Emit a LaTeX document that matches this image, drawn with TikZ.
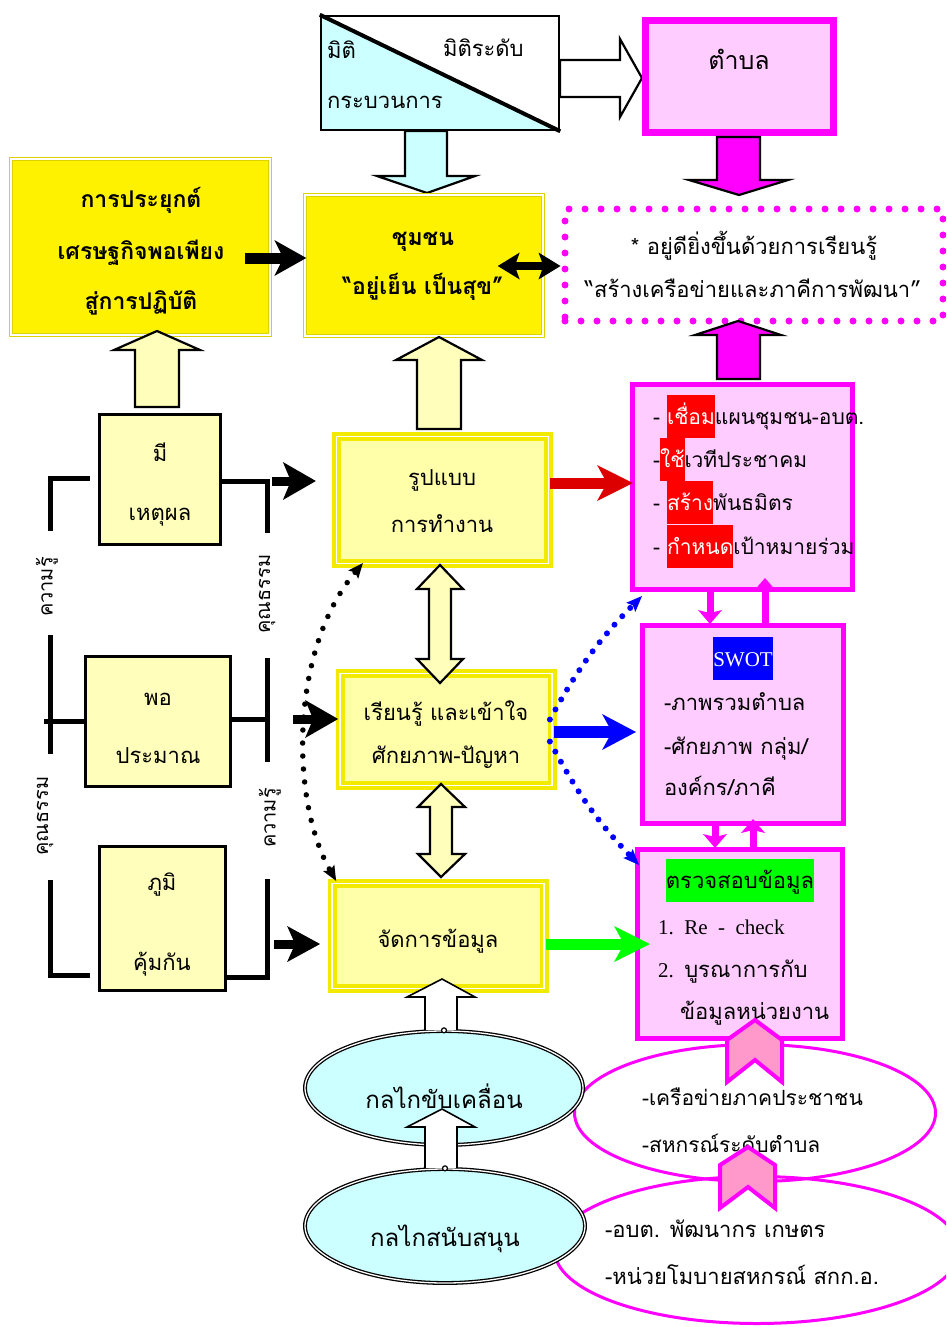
\documentclass[tikz,border=0pt]{standalone}
\usepackage{fontspec}
\setmainfont[Script=Thai]{Loma}
\newfontfamily\latf{Liberation Serif}
\usetikzlibrary{arrows.meta,shapes.geometric,calc}
\definecolor{gold}{HTML}{DCD200}
\definecolor{ybord}{HTML}{F2EA00}
\definecolor{lyel}{HTML}{FFFFAA}
\definecolor{cream}{HTML}{FFFFBB}
\definecolor{pinkf}{HTML}{FFCCFF}
\definecolor{mag}{HTML}{FF00FF}
\definecolor{cyanf}{HTML}{CCFFFF}
\definecolor{chev}{HTML}{FF99CC}
\definecolor{darkred}{HTML}{DD0000}
\definecolor{lime}{HTML}{00FF00}
\newcommand\hlbox[3]{{\setlength\fboxsep{0pt}\colorbox{#1}{\rule[-14pt]{0pt}{43pt}\textcolor{#2}{#3}}}}
\begin{document}
\begin{tikzpicture}[x=1pt,y=-1pt]
\tikzset{
 tx/.style={inner sep=0pt, outer sep=0pt, anchor=base, font=\fontsize{22}{26}\selectfont},
 txl/.style={tx, anchor=base west},
 txb/.style={tx, font=\fontsize{23}{26}\selectfont\bfseries},
 rot/.style={inner sep=0pt, font=\fontsize{20}{24}\selectfont, rotate=90},
 ybig/.style={rectangle, fill=yellow, draw=gold, double=white, line width=1.5pt, double distance=1.5pt, inner sep=0pt},
 ymid/.style={rectangle, fill=lyel, draw=ybord, double=white, line width=3.8pt, double distance=1.4pt, inner sep=0pt},
 sbox/.style={rectangle, fill=cream, draw=black, line width=3pt, inner sep=0pt},
 pbox/.style={rectangle, fill=pinkf, draw=mag, line width=5pt, inner sep=0pt},
 cyell/.style={ellipse, fill=cyanf, draw=black, double=white, line width=1.3pt, double distance=1.3pt, inner sep=0pt},
 pkell/.style={ellipse, draw=mag, line width=3pt, inner sep=0pt},
 barr/.style={draw=black, line width=2.2pt, line join=miter},
 brk/.style={draw=black, line width=5pt},
 fat/.style={line width=#1},
 bigtip/.style={-{Stealth[length=32pt,width=36pt,inset=9pt,line width=0pt]}},
 pktip/.style={-{Stealth[length=14pt,width=24pt,inset=3pt,line width=0pt]}},
 dotblue/.style={draw=blue, line width=6pt, dash pattern=on 0pt off 11.5pt, line cap=round},
 dotblack/.style={draw=black, line width=5.5pt, dash pattern=on 0pt off 13pt, line cap=round},
}
\useasboundingbox (0,0) rectangle (946,1327);
\clip (0,0) rectangle (946,1327);

% ---- top: dimension box
\fill[cyanf] (321,16) -- (559,130) -- (321,130) -- cycle;
\node[rectangle, draw=black, line width=2.5pt, minimum width=238, minimum height=114, inner sep=0pt] (miti) at (440,73) {};
\draw[line width=4pt] (miti.north west) -- (miti.south east);
\draw[barr, fill=white] (560,60) -- (620,60) -- (620,39) -- (642,78) -- (620,117) -- (620,97) -- (560,97) -- cycle;
\draw[barr, fill=cyanf] (405,131) -- (405,176) -- (377,176) -- (427,193) -- (475,176) -- (447,176) -- (447,131) -- cycle;

\node[rectangle, fill=pinkf, draw=mag, line width=7pt, minimum width=188, minimum height=112, inner sep=0pt] (tambon) at (739.5,76.5) {};
\draw[barr, fill=mag] (717,137) -- (717,180) -- (689,180) -- (739,195) -- (788,180) -- (760,180) -- (760,137) -- cycle;

% ---- yellow boxes
\node[ybig, minimum width=259, minimum height=176] (apply) at (140.5,247) {};
\node[ybig, minimum width=238, minimum height=141] (chum) at (424,265.5) {};
\node[rectangle, draw=mag, line width=7pt, dash pattern=on 0pt off 16pt, line cap=round, minimum width=378, minimum height=112, inner sep=0pt] (dotbox) at (754,265) {};
\draw[barr, fill=mag] (717,379) -- (717,335) -- (695,335) -- (738,321) -- (781,335) -- (760,335) -- (760,379) -- cycle;

\draw[barr, fill=cream] (135,407) -- (135,350) -- (114,350) -- (157,331) -- (200,350) -- (179,350) -- (179,407) -- cycle;
\draw[barr, fill=cream] (417,429) -- (417,360) -- (396,360) -- (439,337) -- (482,360) -- (461,360) -- (461,429) -- cycle;

% ---- left small boxes
\node[sbox, minimum width=121, minimum height=130] (mi) at (160,479.5) {};
\node[sbox, minimum width=145, minimum height=130] (por) at (158,721.5) {};
\node[sbox, minimum width=126, minimum height=144] (phum) at (162.5,918.5) {};

% brackets
\draw[brk] (90,478) -- (50,478) -- (50,531);
\draw[brk] (50,635) -- (50,754);
\draw[brk] (por.west) -- ++(-40,0);
\draw[brk] (50,880) -- (50,975) -- (90,975);
\draw[brk] ($(mi.east)+(0,1.5)$) -- (267,481) -- (267,533);
\draw[brk] (267,658) -- (267,762);
\draw[brk] ($(por.east)+(0,-2.5)$) -- (269.5,719);
\draw[brk] (267,879) -- (267,977) -- ($(phum.west)+(129,58.5)$);

\node[rot] (lk1) at (47,587) {ความรู้};
\node[rot] (lm1) at (45,816) {คุณธรรม};
\node[rot] (rm1) at (267,594) {คุณธรรม};
\node[rot] (rk1) at (270,818) {ความรู้};

% ---- middle light yellow boxes
\node[ymid, minimum width=211.5, minimum height=126.5] (rup) at (442.5,500) {};
\node[ymid, minimum width=212, minimum height=111.5] (rian) at (446,729.5) {};
\node[ymid, minimum width=212, minimum height=104.5] (jad) at (438,936) {};

\draw[barr, fill=cream] (440,565) -- (463,589) -- (451,589) -- (451,659) -- (463,659) -- (440,683) -- (417,659) -- (429,659) -- (429,589) -- (417,589) -- cycle;
\draw[barr, fill=cream] (441,784) -- (465,807) -- (452,807) -- (452,854) -- (465,854) -- (441,877) -- (418,854) -- (430,854) -- (430,807) -- (418,807) -- cycle;

% ---- right pink boxes
\node[pbox, minimum width=220, minimum height=205] (link) at (742.5,487) {};
\node[pbox, minimum width=201, minimum height=198] (swot) at (743,724.5) {};
\node[pbox, minimum width=205, minimum height=189] (check) at (740,944) {};

% ---- bottom ellipses
\node[pkell, minimum width=361, minimum height=137] (pell1) at (755,1113) {};
\node[pkell, minimum width=405, minimum height=147] (pell2) at (757,1250) {};
\node[cyell, minimum width=278, minimum height=114] (ell1) at (444,1088) {};
\node[cyell, minimum width=280, minimum height=114] (ell2) at (445,1226) {};

% ---- connectors
\draw[fat=11pt, bigtip] ($(apply.east)+(-26,11)$) -- ($(chum.west)+(2,-7.5)$);
\draw[fat=8pt, {Stealth[length=22pt,width=27pt,inset=5pt,line width=0pt]}-{Stealth[length=22pt,width=27pt,inset=5pt,line width=0pt]}] ($(chum.east)+(-46,0.5)$) -- ($(dotbox.west)+(-1,1)$);
\draw[fat=9pt, -{Stealth[length=33pt,width=38pt,inset=8pt,line width=0pt]}] ($(mi.east)+(50,1.5)$) -- ($(rup.west)+(-19,-19)$);
\draw[fat=9pt, -{Stealth[length=33pt,width=38pt,inset=8pt,line width=0pt]}] ($(por.east)+(61,-2.5)$) -- ($(rian.west)+(0,-10.5)$);
\draw[fat=9pt, -{Stealth[length=33pt,width=36pt,inset=8pt,line width=0pt]}] ($(phum.east)+(47,25.5)$) -- ($(jad.west)+(-10,8)$);
\draw[darkred, fat=11pt, -{Stealth[length=36pt,width=36pt,inset=10pt,line width=0pt]}] ($(rup.east)+(0,-17)$) -- ($(link.west)+(3,-4)$);
\draw[blue, fat=12pt, -{Stealth[length=34pt,width=36pt,inset=10pt,line width=0pt]}] ($(rian.east)+(0,2.5)$) -- ($(swot.west)+(-4,7.5)$);
\draw[lime, fat=11pt, -{Stealth[length=36pt,width=36pt,inset=10pt,line width=0pt]}] ($(jad.east)+(0,8)$) -- ($(check.west)+(15,0)$);

\draw[mag, fat=7pt, pktip] ($(link.south)+(-32.5,0)$) -- ($(swot.north)+(-33,1)$);
\draw[mag, fat=7pt, pktip] ($(swot.north)+(22,0)$) -- ($(link.south)+(22.5,-14)$);
\draw[mag, fat=7pt, pktip] ($(swot.south)+(-28,0)$) -- ($(check.north)+(-25,1)$);
\draw[mag, fat=7pt, pktip] ($(check.north)+(13,0)$) -- ($(swot.south)+(10,-7)$);

\draw[dotblue, -{Stealth[length=16pt,width=13pt,inset=3pt,line width=0pt]}] ($(rian.east)+(-4,-10)$) to[bend left=8] ($(link.south west)+(12,4)$);
\draw[dotblue, -{Stealth[length=16pt,width=13pt,inset=3pt,line width=0pt]}] ($(rian.east)+(-4,12)$) to[bend right=8] ($(check.north west)+(4,18)$);
\draw[dotblack, {Stealth[length=15pt,width=13pt,inset=3pt,line width=0pt]}-{Stealth[length=15pt,width=13pt,inset=3pt,line width=0pt]}] ($(rup.south west)+(28,-2)$) .. controls (290,650) and (290,800) .. ($(jad.north west)+(6,-1)$);

% ---- texts
\node[txl] (tm1) at (327,59) {มิติ};
\node[txl] (tm2) at (443,57) {มิติระดับ};
\node[txl] (tm3) at (327,109) {กระบวนการ};
\node[tx, font=\fontsize{25}{28}\selectfont] (tt) at (739,70) {ตำบล};
\node[txb] (ta1) at (141,207) {การประยุกต์};
\node[txb] (ta2) at (141,259) {เศรษฐกิจพอเพียง};
\node[txb] (ta3) at (141,309) {สู่การปฏิบัติ};
\node[txb] (tc1) at (423,245) {ชุมชน};
\node[txb] (tc2) at (423,294) {“อยู่เย็น เป็นสุข”};
\node[tx] (td1) at (754,254) {* อยู่ดียิ่งขึ้นด้วยการเรียนรู้};
\node[tx] (td2) at (753,297) {“สร้างเครือข่ายและภาคีการพัฒนา”};
\node[tx] (tmi1) at (160,461) {มี};
\node[tx] (tmi2) at (160,520) {เหตุผล};
\node[tx] (tpo1) at (158,705) {พอ};
\node[tx] (tpo2) at (158,763) {ประมาณ};
\node[tx] (tph1) at (162,890) {ภูมิ};
\node[tx] (tph2) at (162,970) {คุ้มกัน};
\node[tx] (tr1) at (442,485) {รูปแบบ};
\node[tx] (tr2) at (442,532) {การทำงาน};
\node[tx] (tn1) at (446,720) {เรียนรู้ และเข้าใจ};
\node[tx] (tn2) at (446,763) {ศักยภาพ-ปัญหา};
\node[tx] (tj1) at (438,947) {จัดการข้อมูล};
\begin{scope}[every node/.append style={font=\fontsize{21}{24}\selectfont}]
\node[txl, font=\fontsize{21}{24}\selectfont] (tl1) at (653,424) {- \hlbox{red}{white}{เชื่อม}แผนชุมชน-อบต.};
\node[txl, font=\fontsize{21}{24}\selectfont] (tl2) at (653,467) {-\hlbox{red}{white}{ใช้}เวทีประชาคม};
\node[txl, font=\fontsize{21}{24}\selectfont] (tl3) at (653,510) {- \hlbox{red}{white}{สร้าง}พันธมิตร};
\node[txl, font=\fontsize{21}{24}\selectfont] (tl4) at (653,554) {- \hlbox{red}{white}{กำหนด}เป้าหมายร่วม};
\end{scope}
\node[tx] (ts0) at (743,666) {\hlbox{blue}{white}{\latf\fontsize{21}{24}\selectfont SWOT}};
\node[txl] (ts1) at (664,710) {-ภาพรวมตำบล};
\node[txl] (ts2) at (664,754) {-ศักยภาพ กลุ่ม/};
\node[txl] (ts3) at (664,795) {องค์กร/ภาคี};
\node[tx] (tk0) at (740,888) {\hlbox{lime}{black}{ตรวจสอบข้อมูล}};
\node[txl] (tk1) at (658,934) {{\latf\fontsize{21}{24}\selectfont 1.\ \ Re\ \ -\ \ check}};
\node[txl] (tk2) at (658,977) {{\latf\fontsize{21}{24}\selectfont 2.\ \ }บูรณาการกับ};
\node[txl] (tk3) at (680,1019) {ข้อมูลหน่วยงาน};
\node[tx, font=\fontsize{24}{28}\selectfont] (te1) at (444,1108) {กลไกขับเคลื่อน};
\node[tx, font=\fontsize{24}{28}\selectfont] (te2) at (445,1246) {กลไกสนับสนุน};
\node[txl, font=\fontsize{21}{24}\selectfont] (tp1) at (642,1105) {-เครือข่ายภาคประชาชน};
\node[txl, font=\fontsize{21}{24}\selectfont] (tp2) at (642,1152) {-สหกรณ์ระดับตำบล};
\node[txl] (tq1) at (605,1237) {-อบต. พัฒนากร เกษตร};
\node[txl] (tq2) at (605,1284) {-หน่วยโมบายสหกรณ์ สกก.อ.};

% ---- white up arrows over ellipses
\draw[barr, line width=1.6pt, fill=white] (425,1030) -- (425,997) -- (407,997) -- (442,979) -- (475,997) -- (457,997) -- (457,1030);
\draw[barr, line width=1.6pt, fill=white] (425,1168) -- (425,1127) -- (407,1127) -- (442,1109) -- (475,1127) -- (457,1127) -- (457,1168);
\draw[line width=1.2pt, fill=white] (ell1.north) circle (2.5);
\draw[line width=1.2pt, fill=white] (ell2.north) circle (2.5);

% ---- chevrons
\draw[fill=chev, draw=mag, line width=4pt, line join=miter] (727,1040) -- (755,1020) -- (782,1040) -- (782,1082) -- (755,1060) -- (727,1082) -- cycle;
\draw[fill=chev, draw=mag, line width=4pt, line join=miter] (720,1165) -- (748,1147) -- (775,1165) -- (775,1208) -- (748,1187) -- (720,1208) -- cycle;
\end{tikzpicture}
\end{document}
